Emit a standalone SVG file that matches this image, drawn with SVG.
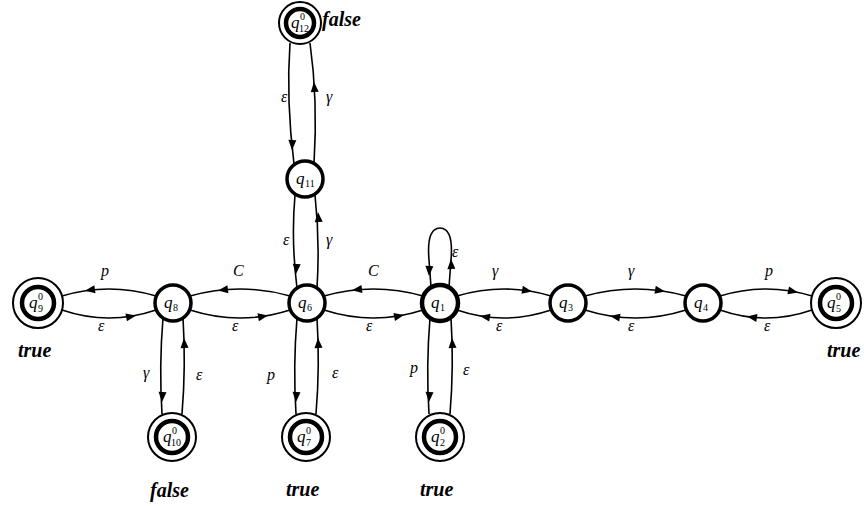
<svg xmlns="http://www.w3.org/2000/svg" xmlns:xlink="http://www.w3.org/1999/xlink" width="864" height="506" viewBox="0 0 864 506">
  <style>
    .st { fill: #fff; stroke: #000; stroke-width: 3.5; }
    .ring { fill: #fff; stroke: #000; stroke-width: 2; }
    .core { fill: #fff; stroke: #000; stroke-width: 4.5; }
    .nl { font-family: "Liberation Serif", "DejaVu Serif", serif; font-style: italic; font-size: 17px; fill: #000; }
    .ns { font-family: "Liberation Serif", "DejaVu Serif", serif; font-size: 10px; fill: #000; }
    .el { font-family: "Liberation Serif", "DejaVu Serif", serif; font-style: italic; font-size: 16px; fill: #000; }
    .tf { font-family: "Liberation Serif", "DejaVu Serif", serif; font-style: italic; font-weight: bold; font-size: 20px; fill: #000; }
    .ed { fill: none; stroke: #000; stroke-width: 1.6; }
  </style>
  <defs>
    <path id="ah" d="M0,0 L-10,-4 L-10,4 Z" fill="#000"/>
  </defs>
  <rect width="864" height="506" fill="#fff"/>

  <!-- connectors -->
  <g id="edges">
    <!-- q9 / q8 -->
    <path class="ed" d="M62,296 Q109,282 156,296"/>
    <use xlink:href="#ah" transform="translate(85,290.8) rotate(171.4)"/>
    <path class="ed" d="M62,310 Q109,326 156,310"/>
    <use xlink:href="#ah" transform="translate(136,315.4) rotate(-11)"/>
    <!-- q8 / q6 -->
    <path class="ed" d="M190,296 Q240,282 290,296"/>
    <use xlink:href="#ah" transform="translate(218,290.4) rotate(173)"/>
    <path class="ed" d="M190,310 Q240,326 290,310"/>
    <use xlink:href="#ah" transform="translate(268,315.5) rotate(-10.2)"/>
    <!-- q6 / q1 -->
    <path class="ed" d="M324,296 Q373.5,282 423,296"/>
    <use xlink:href="#ah" transform="translate(352,290.3) rotate(173)"/>
    <path class="ed" d="M324,310 Q373.5,326 423,310"/>
    <use xlink:href="#ah" transform="translate(404,315) rotate(-11.3)"/>
    <!-- q1 / q3 -->
    <path class="ed" d="M457,296 Q504,282 551,296"/>
    <use xlink:href="#ah" transform="translate(532,291.5) rotate(10.1)"/>
    <path class="ed" d="M457,310 Q504,326 551,310"/>
    <use xlink:href="#ah" transform="translate(480,315.9) rotate(-170.1)"/>
    <!-- q3 / q4 -->
    <path class="ed" d="M585,296 Q635.5,282 686,296"/>
    <use xlink:href="#ah" transform="translate(665,291.4) rotate(9.2)"/>
    <path class="ed" d="M585,310 Q635.5,326 686,310"/>
    <use xlink:href="#ah" transform="translate(610,316) rotate(-170.9)"/>
    <!-- q4 / q5 -->
    <path class="ed" d="M720,296 Q766,282 812,296"/>
    <use xlink:href="#ah" transform="translate(798,292.4) rotate(12)"/>
    <path class="ed" d="M720,310 Q766,326 812,310"/>
    <use xlink:href="#ah" transform="translate(747,316.6) rotate(-171.8)"/>

    <!-- q12 / q11 -->
    <path class="ed" d="M290,43 Q286,100 294,164"/>
    <use xlink:href="#ah" transform="translate(292,150) rotate(92)"/>
    <path class="ed" d="M314,164 Q318,100 310,43"/>
    <use xlink:href="#ah" transform="translate(314,82) rotate(-94)"/>
    <!-- q11 / q6 -->
    <path class="ed" d="M295,195 Q291,240 297,288"/>
    <use xlink:href="#ah" transform="translate(296,274) rotate(94)"/>
    <path class="ed" d="M317,288 Q320,240 315,195"/>
    <use xlink:href="#ah" transform="translate(318,212) rotate(-94)"/>

    <!-- q8 / q10 -->
    <path class="ed" d="M163,318 Q159,366 162,414"/>
    <use xlink:href="#ah" transform="translate(162,402) rotate(93)"/>
    <path class="ed" d="M182,414 Q186,366 183,318"/>
    <use xlink:href="#ah" transform="translate(184,338) rotate(-93)"/>
    <!-- q6 / q7 -->
    <path class="ed" d="M297,318 Q293,366 296,414"/>
    <use xlink:href="#ah" transform="translate(296,402) rotate(93)"/>
    <path class="ed" d="M316,414 Q320,366 317,318"/>
    <use xlink:href="#ah" transform="translate(318,338) rotate(-93)"/>
    <!-- q1 / q2 -->
    <path class="ed" d="M430,318 Q426,366 429,414"/>
    <use xlink:href="#ah" transform="translate(429,402) rotate(93)"/>
    <path class="ed" d="M450,414 Q454,366 451,318"/>
    <use xlink:href="#ah" transform="translate(452,338) rotate(-93)"/>

    <!-- q1 self loop -->
    <path class="ed" d="M431,287 L429,260 C427,236 432,228 440,228 C448,228 453,236 451,260 L449,287"/>
    <use xlink:href="#ah" transform="translate(429,276) rotate(92)"/>
    <use xlink:href="#ah" transform="translate(451,259) rotate(-92)"/>
  </g>

  <!-- edge labels -->
  <g id="edge-labels">
    <text class="el" x="101" y="276">p</text>
    <text class="el" x="98" y="331">ε</text>
    <text class="el" x="233" y="276">C</text>
    <text class="el" x="232" y="331">ε</text>
    <text class="el" x="368" y="276">C</text>
    <text class="el" x="366" y="331">ε</text>
    <text class="el" x="492" y="276">γ</text>
    <text class="el" x="496" y="331">ε</text>
    <text class="el" x="628" y="276">γ</text>
    <text class="el" x="628" y="331">ε</text>
    <text class="el" x="765" y="276">p</text>
    <text class="el" x="764" y="331">ε</text>
    <text class="el" x="452" y="257">ε</text>
    <text class="el" x="281" y="102">ε</text>
    <text class="el" x="326" y="102">γ</text>
    <text class="el" x="283" y="245">ε</text>
    <text class="el" x="326" y="245">γ</text>
    <text class="el" x="143" y="378">γ</text>
    <text class="el" x="196" y="380">ε</text>
    <text class="el" x="267" y="380">p</text>
    <text class="el" x="332" y="378">ε</text>
    <text class="el" x="410" y="373">p</text>
    <text class="el" x="463" y="375">ε</text>
  </g>

  <!-- states -->
  <g id="q12">
    <circle class="ring" cx="300" cy="23" r="21"/>
    <circle class="core" cx="300" cy="23" r="14"/>
    <text class="nl" x="291" y="28">q</text>
    <text class="ns" x="300" y="20">0</text>
    <text class="ns" x="299" y="32">12</text>
    <text class="tf" x="322" y="26">false</text>
  </g>
  <g id="q11">
    <circle class="st" cx="305" cy="179" r="18"/>
    <text class="nl" x="296" y="184">q</text>
    <text class="ns" x="305" y="187">11</text>
  </g>
  <g id="q9">
    <circle class="ring" cx="38" cy="303" r="25"/>
    <circle class="core" cx="38" cy="303" r="16"/>
    <text class="nl" x="29" y="308">q</text>
    <text class="ns" x="38" y="300">0</text>
    <text class="ns" x="38" y="312">9</text>
    <text class="tf" x="18" y="357">true</text>
  </g>
  <g id="q8">
    <circle class="st" cx="173" cy="303" r="18"/>
    <text class="nl" x="164" y="308">q</text>
    <text class="ns" x="173" y="311">8</text>
  </g>
  <g id="q6">
    <circle class="st" cx="307" cy="303" r="18"/>
    <text class="nl" x="298" y="308">q</text>
    <text class="ns" x="307" y="311">6</text>
  </g>
  <g id="q1">
    <circle class="st" cx="440" cy="303" r="18" style="stroke-width:4.5"/>
    <text class="nl" x="431" y="308">q</text>
    <text class="ns" x="440" y="311">1</text>
  </g>
  <g id="q3">
    <circle class="st" cx="568" cy="303" r="18"/>
    <text class="nl" x="559" y="308">q</text>
    <text class="ns" x="568" y="311">3</text>
  </g>
  <g id="q4">
    <circle class="st" cx="703" cy="303" r="18"/>
    <text class="nl" x="694" y="308">q</text>
    <text class="ns" x="703" y="311">4</text>
  </g>
  <g id="q5">
    <circle class="ring" cx="836" cy="303" r="25"/>
    <circle class="core" cx="836" cy="303" r="16"/>
    <text class="nl" x="827" y="308">q</text>
    <text class="ns" x="836" y="300">0</text>
    <text class="ns" x="836" y="312">5</text>
    <text class="tf" x="827" y="357">true</text>
  </g>
  <g id="q10">
    <circle class="ring" cx="172" cy="437" r="24"/>
    <circle class="core" cx="172" cy="437" r="16"/>
    <text class="nl" x="163" y="442">q</text>
    <text class="ns" x="172" y="434">0</text>
    <text class="ns" x="171" y="446">10</text>
    <text class="tf" x="150" y="497">false</text>
  </g>
  <g id="q7">
    <circle class="ring" cx="306" cy="437" r="24"/>
    <circle class="core" cx="306" cy="437" r="16"/>
    <text class="nl" x="297" y="442">q</text>
    <text class="ns" x="306" y="434">0</text>
    <text class="ns" x="306" y="446">7</text>
    <text class="tf" x="286" y="496">true</text>
  </g>
  <g id="q2">
    <circle class="ring" cx="440" cy="437" r="24"/>
    <circle class="core" cx="440" cy="437" r="16"/>
    <text class="nl" x="431" y="442">q</text>
    <text class="ns" x="440" y="434">0</text>
    <text class="ns" x="440" y="446">2</text>
    <text class="tf" x="420" y="496">true</text>
  </g>
</svg>
